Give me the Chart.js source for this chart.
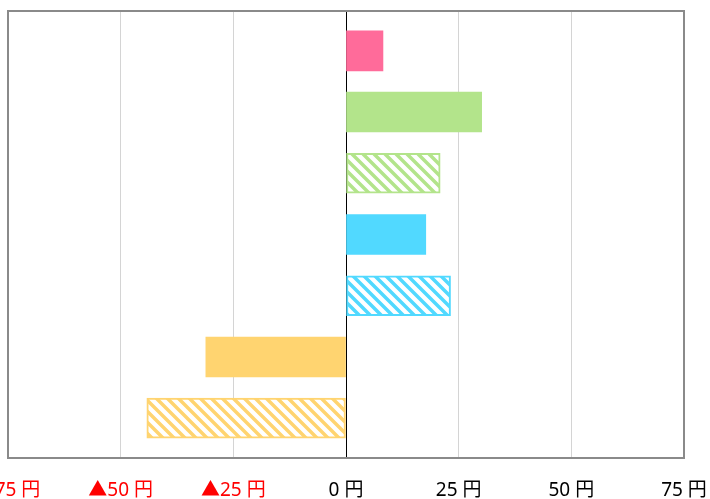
<!DOCTYPE html>
<html>
<head>
<meta charset="utf-8">
<script src="https://cdn.jsdelivr.net/npm/chart.js@4/dist/chart.umd.min.js"></script>
<style>
  html, body { margin: 0; padding: 0; background: #fff; }
  #wrap { position: relative; width: 710px; height: 499px; }
</style>
</head>
<body>
<div id="wrap"><canvas id="gap"></canvas></div>
<script>
// bar rows, top to bottom
const rows = [0, 1, 2, 3, 4, 5, 6];
const values = [8.2, 30.1, 20.9, 17.7, 23.2, -31.1, -44.2];
const hatched = [false, false, true, false, true, false, true];
const colors = ['#ff6b9a', '#b3e48b', '#b3e48b', '#51d9ff', '#51d9ff', '#ffd470', '#ffd470'];
const tickMin = -75, tickMax = 75, tickStep = 25;

function stripes(color) {
    const s = 11;
    const c = document.createElement('canvas');
    c.width = s; c.height = s;
    const g = c.getContext('2d');
    g.fillStyle = '#fff';
    g.fillRect(0, 0, s, s);
    g.strokeStyle = color;
    g.lineWidth = 3.5;
    g.beginPath();
    g.moveTo(-2, -2); g.lineTo(s + 2, s + 2);
    g.moveTo(-2, s - 2); g.lineTo(2, s + 2);
    g.moveTo(s - 2, -2); g.lineTo(s + 2, 2);
    g.stroke();
    return g.createPattern(c, 'repeat');
}

const frame = {
    id: 'frame',
    afterDraw(chart) {
        const a = chart.chartArea, g = chart.ctx;
        g.save();
        g.strokeStyle = '#8a8a8a';
        g.lineWidth = 2;
        g.strokeRect(a.left, a.top, a.right - a.left, a.bottom - a.top);
        g.restore();
    }
};

const ctx = document.getElementById('gap').getContext('2d');
new Chart(ctx, {
    type: 'bar',
    data: {
        datasets: [{
            data: rows.map((r, i) => ({ x: values[i], y: r })),
            backgroundColor: colors.map((c, i) => hatched[i] ? stripes(c) : c),
            borderColor: colors,
            borderWidth: hatched.map(h => h ? 2 : 0),
            borderSkipped: false,
            barThickness: 40
        }]
    },
    plugins: [frame],
    options: {
        indexAxis: 'y',
        responsive: true,
        maintainAspectRatio: false,
        animation: false,
        layout: { padding: { left: 8, right: 26, top: 11, bottom: 0 } },
        plugins: { legend: { display: false }, tooltip: { enabled: false } },
        scales: {
            x: {
                min: tickMin,
                max: tickMax,
                border: { display: false },
                grid: {
                    drawTicks: false,
                    color: c => c.tick && c.tick.value === 0 ? '#000' : '#d4d4d4'
                },
                ticks: {
                    stepSize: tickStep,
                    padding: 21,
                    maxRotation: 0,
                    autoSkip: false,
                    font: { family: '"Noto Sans", "Noto Sans CJK JP", sans-serif', size: 19 },
                    color: c => c.tick.value < 0 ? '#ff0000' : '#000',
                    callback: v => v < 0 ? '▲' + (-v) + ' 円' : v + ' 円'
                },
                afterFit(scale) { scale.paddingLeft = 0; scale.paddingRight = 0; scale.height = 41; }
            },
            y: {
                type: 'linear',
                display: false,
                offset: false,
                reverse: true,
                min: -0.65,
                max: 6.65
            }
        }
    }
});
</script>
</body>
</html>
